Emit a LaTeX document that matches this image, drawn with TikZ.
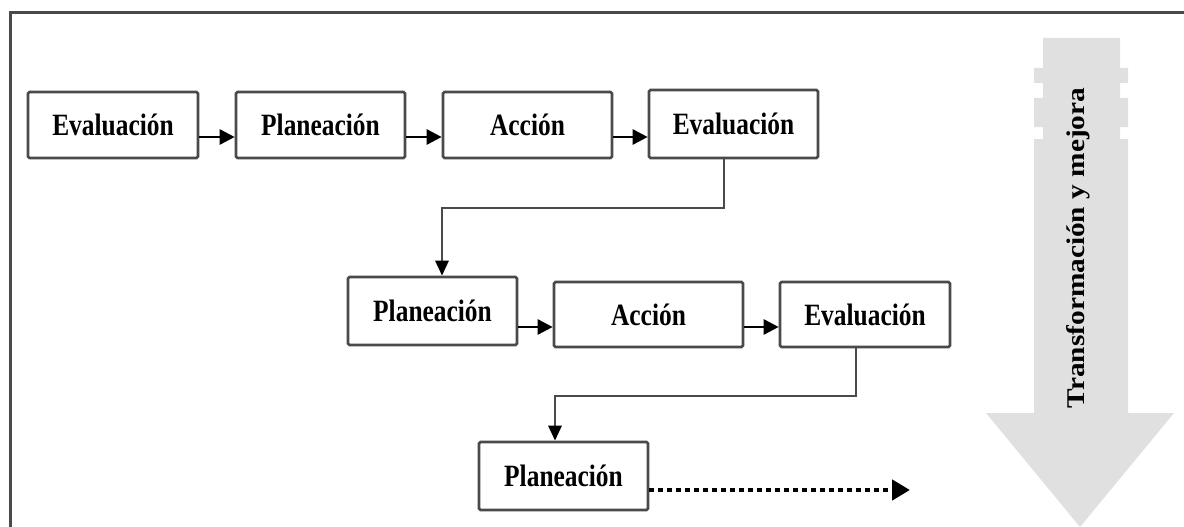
\documentclass[tikz,border=0pt]{standalone}
\usepackage{fontspec}
\usetikzlibrary{arrows.meta}
\newfontfamily\boxfont{Liberation Serif}[FakeStretch=0.82]
\newfontfamily\sidefont{Liberation Serif}[FakeStretch=1.15]
\definecolor{boxline}{HTML}{4A4A4A}
\definecolor{bigfill}{HTML}{E0E0E0}
\tikzset{
  stepbox/.style={draw=boxline, line width=2.6pt, rounded corners=1.5pt, fill=white,
    inner sep=0pt, anchor=center,
    font=\boxfont\bfseries\fontsize{31}{31}\selectfont},
  harr/.style={draw=black, line width=2.6pt, -{Triangle[length=15pt,width=15pt]}},
  conn/.style={draw=boxline, line width=2.8pt, -{Triangle[length=15pt,width=13pt,color=black]}},
  dotarr/.style={draw=black, line width=4.5pt, dash pattern=on 5pt off 4pt,
    -{Triangle[length=18pt,width=20pt,sep=2pt]}},
  sidetext/.style={rotate=90, anchor=center, inner sep=0pt,
    font=\sidefont\bfseries\fontsize{25.5}{25.5}\selectfont}
}
\begin{document}
\begin{tikzpicture}[x=1pt,y=-1pt]
\useasboundingbox (0,0) rectangle (1184,527);
% frame (top and left edges)
\draw[boxline, line width=3pt] (10,527) -- (10,13) -- (1184,13);
% big striped arrow
\fill[bigfill] (1043,38) -- (1120,38) -- (1120,68) -- (1128,68) -- (1128,83) -- (1120,83)
  -- (1120,98) -- (1128,98) -- (1128,127) -- (1120,127) -- (1120,139) -- (1128,139)
  -- (1128,413) -- (1174,413) -- (1080,527) -- (986,413) -- (1034,413) -- (1034,139)
  -- (1043,139) -- (1043,127) -- (1034,127) -- (1034,98) -- (1043,98) -- (1043,83)
  -- (1034,83) -- (1034,68) -- (1043,68) -- cycle;
\node[sidetext] (tm) at (1078,248) {Transformación y mejora};
% row 1
\node[stepbox, minimum width=170pt, minimum height=66pt] (e1) at (113,125) {Evaluación};
\node[stepbox, minimum width=169pt, minimum height=66pt] (p1) at (320.5,125) {Planeación};
\node[stepbox, minimum width=169pt, minimum height=66pt] (a1) at (527.5,125) {Acción};
\node[stepbox, minimum width=169pt, minimum height=68pt] (e2) at (733.5,124) {Evaluación};
% row 2
\node[stepbox, minimum width=169pt, minimum height=68pt] (p2) at (432.5,311) {Planeación};
\node[stepbox, minimum width=189pt, minimum height=65pt] (a2) at (648.5,314.5) {Acción};
\node[stepbox, minimum width=170pt, minimum height=65pt] (ev2) at (865,314.5) {Evaluación};
% row 3
\node[stepbox, minimum width=169pt, minimum height=68pt] (p3) at (563.5,476) {Planeación};
% row arrows
\coordinate (r1) at (0,137);
\coordinate (r2) at (0,327);
\coordinate (r3) at (0,490);
\coordinate (dend) at (912,490);
\draw[harr] (e1.east |- r1) -- (p1.west |- r1);
\draw[harr] (p1.east |- r1) -- (a1.west |- r1);
\draw[harr] (a1.east |- r1) -- (e2.west |- r1);
\draw[harr] (p2.east |- r2) -- (a2.west |- r2);
\draw[harr] (a2.east |- r2) -- (ev2.west |- r2);
\draw[dotarr] (p3.east |- r3) -- (dend);
% elbow connectors
\coordinate (k1) at (724,208);
\coordinate (k2) at (442,208);
\coordinate (k3) at (856,396);
\coordinate (k4) at (555,396);
\draw[conn] (e2.south -| k1) -- (k1) -- (k2) -- (p2.north -| k2);
\draw[conn] (ev2.south -| k3) -- (k3) -- (k4) -- (p3.north -| k4);
\end{tikzpicture}
\end{document}
